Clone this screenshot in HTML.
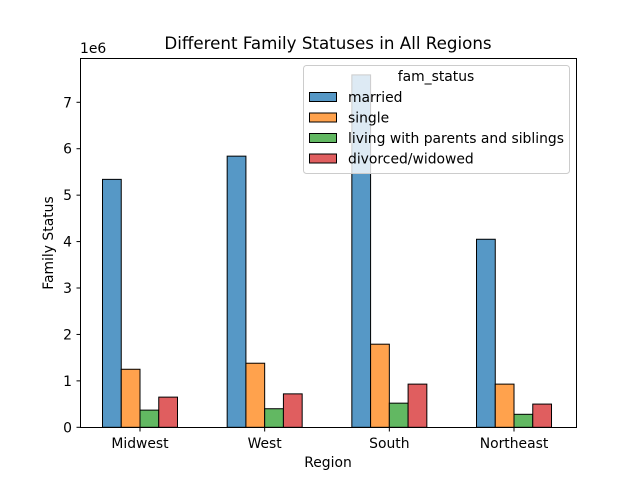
<!DOCTYPE html>
<html><head><meta charset="utf-8"><style>
body{margin:0;background:#fff;}
svg{font-family:"DejaVu Sans","Liberation Sans",sans-serif;}
</style></head><body>
<svg id="c" width="640" height="480" viewBox="0 0 640 480">
<text x="328" y="49" font-size="16.7" text-anchor="middle">Different Family Statuses in All Regions</text>
<text x="80" y="53" font-size="13.9">1e6</text>
<text x="328" y="467" font-size="13.9" text-anchor="middle">Region</text>
<text transform="translate(53,243) rotate(-90)" font-size="13.9" text-anchor="middle">Family Status</text>
<g id="bars"></g><g id="ticks"></g>
<rect x="80.5" y="58.5" width="496" height="369" fill="none" stroke="#000" stroke-width="1"/>
<g id="legend">
<rect x="303.5" y="65.5" width="266" height="108" rx="3" fill="#fff" fill-opacity="0.8" stroke="#ccc"/>
<text x="436" y="81" font-size="13.9" text-anchor="middle">fam_status</text>
</g>
</svg>
<script>
const categories=["Midwest","West","South","Northeast"];
const seriesNames=["married","single","living with parents and siblings","divorced/widowed"];
const married=[5.34,5.84,7.59,4.05];
const single=[1.25,1.38,1.79,0.93];
const living=[0.37,0.40,0.52,0.28];
const divorced=[0.65,0.72,0.93,0.50];
const yTicks=[0,1,2,3,4,5,6,7];
const series=[married,single,living,divorced];
const colors=["#5698c6","#ffa24d","#62b862","#e05e5f"];
const ns="http://www.w3.org/2000/svg";
const y0=427.3,ppu=46.43;
function y(v){return y0-v*ppu;}
function x(i){return 140+i*124.67;}
const bw=18.75;
const bars=document.getElementById('bars');
series.forEach((s,j)=>{s.forEach((v,i)=>{
 const r=document.createElementNS(ns,'rect');
 const left=x(i)+(j-2)*bw;
 r.setAttribute('x',left);r.setAttribute('y',y(v));
 r.setAttribute('width',bw);r.setAttribute('height',y0-y(v));
 r.setAttribute('fill',colors[j]);r.setAttribute('stroke','#000');r.setAttribute('stroke-width','1');
 
 
 bars.appendChild(r);});});
const t=document.getElementById('ticks');
yTicks.forEach(v=>{
 const l=document.createElementNS(ns,'line');
 l.setAttribute('x1',76.5);l.setAttribute('x2',80.5);l.setAttribute('y1',y(v));l.setAttribute('y2',y(v));l.setAttribute('stroke','#000');
 
 
 t.appendChild(l);
 const tx=document.createElementNS(ns,'text');
 tx.setAttribute('x',72);tx.setAttribute('y',y(v)+5);tx.setAttribute('font-size','13.9');tx.setAttribute('text-anchor','end');tx.textContent=v;
 
 
 t.appendChild(tx);});
categories.forEach((c,i)=>{
 const l=document.createElementNS(ns,'line');
 l.setAttribute('x1',x(i));l.setAttribute('x2',x(i));l.setAttribute('y1',427.5);l.setAttribute('y2',431.5);l.setAttribute('stroke','#000');
 
 
 t.appendChild(l);
 const tx=document.createElementNS(ns,'text');
 tx.setAttribute('x',x(i));tx.setAttribute('y',448);tx.setAttribute('font-size','13.9');tx.setAttribute('text-anchor','middle');tx.textContent=c;
 
 
 t.appendChild(tx);});
const lg=document.getElementById('legend');
seriesNames.forEach((n,j)=>{
 const yy=97+j*20.5;
 const r=document.createElementNS(ns,'rect');
 r.setAttribute('x',309.5);r.setAttribute('y',yy-4.5);r.setAttribute('width',27);r.setAttribute('height',9);
 r.setAttribute('fill',colors[j]);r.setAttribute('stroke','#000');
 
 
 lg.appendChild(r);
 const tx=document.createElementNS(ns,'text');
 tx.setAttribute('x',348);tx.setAttribute('y',yy+5);tx.setAttribute('font-size','13.9');tx.textContent=n;
 
 
 lg.appendChild(tx);});
</script>
</body></html>
